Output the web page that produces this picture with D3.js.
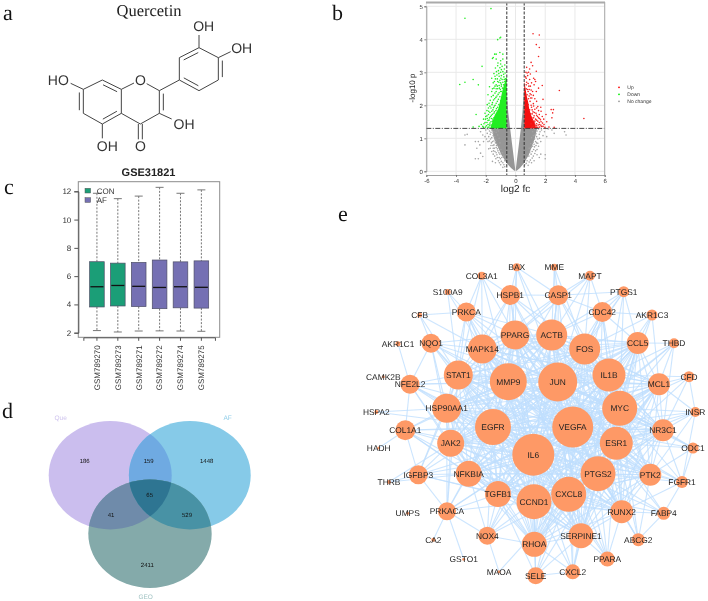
<!DOCTYPE html>
<html>
<head>
<meta charset="utf-8">
<style>
  body { margin: 0; background: #fff; }
  svg { filter: blur(0.3px); }
  text { font-family: "Liberation Sans", Arial, sans-serif; text-rendering: geometricPrecision; }
  .panel-letter { font-family: "Liberation Serif", serif; font-size: 22px; fill: #111; }
</style>
</head>
<body>
<div class="canvas"></div>
<script src="https://cdn.jsdelivr.net/npm/d3@7"></script>
<script>
// ---- panel a: molecule, atoms
const atomNames = ["c7", "c8", "c8a", "c4a", "c5", "c6", "o1", "o1r", "c2", "c3", "c4", "c1b", "c2b", "c3b", "c4b", "c5b", "c6b", "oh3b", "oh4b", "oh7", "oh5", "oh3", "oc4"];
const atomX = [250, 307, 364, 364, 307, 250, 402, 440, 478, 478, 421, 538, 538, 597, 655, 655, 597, 597, 692, 212, 307, 515, 421];
const atomY = [268, 240, 268, 340, 372, 340, 249, 251, 272, 340, 372, 240, 173, 143, 173, 240, 272, 105, 155, 250, 415, 357, 418];
const singleBonds = [["c7", "c8"], ["c8a", "c4a"], ["c5", "c6"], ["c8a", "o1"], ["o1r", "c2"], ["c3", "c4"], ["c4", "c4a"], ["c2", "c1b"], ["c1b", "c2b"], ["c3b", "c4b"], ["c5b", "c6b"], ["c3b", "oh3b"], ["c4b", "oh4b"], ["c7", "oh7"], ["c5", "oh5"], ["c3", "oh3"]];
const doubleBonds = [["c7", "c6", 12], ["c8", "c8a", 12], ["c4a", "c5", 12], ["c2", "c3", -12], ["c2b", "c3b", 12], ["c4b", "c5b", -12], ["c1b", "c6b", -12]];
const moleculeLabels = ["OH", "OH", "HO", "OH", "OH", "O", "O"];
const moleculeLabelX = [611, 725, 175, 322, 552, 421, 421];
const moleculeLabelY = [77, 143, 241, 437, 373, 240, 437];

// ---- panel b: volcano
const volcanoXTicks = [-6, -4, -2, 0, 2, 4, 6];
const volcanoYTicks = [0, 1, 2, 3, 4, 5];
const fcCut = 0.585;
const pCut = 1.3;
const legendNames = ["Up", "Down", "No change"];
const legendColors = ["#ff0000", "#00ee00", "#999999"];
// dense parts of the cloud: [-log10 p, outer log2 fc, inner log2 fc]
const greyLeft = [[0.02, -0.08, -0.02], [0.1, -0.3, -0.03], [0.25, -0.6, -0.07], [0.5, -0.95, -0.14], [0.75, -1.2, -0.21], [1, -1.45, -0.28], [1.3, -1.6, -0.36], [1.3, -0.585, -0.36], [1.8, -0.585, -0.49], [2.4, -0.585, -0.58]];
const greyRight = [[0.02, 0.08, 0.02], [0.1, 0.3, 0.03], [0.25, 0.58, 0.07], [0.5, 0.9, 0.14], [0.75, 1.1, 0.21], [1, 1.3, 0.28], [1.3, 1.45, 0.36], [1.3, 0.585, 0.36], [1.8, 0.585, 0.47], [2.5, 0.585, 0.57]];
const greenCore = [[1.3, -1.7], [1.5, -1.55], [1.7, -1.4], [1.9, -1.15], [2.1, -1.05], [2.3, -0.95], [2.5, -0.85], [2.7, -0.72], [2.85, -0.62]];
const redCore = [[1.3, 1.4], [1.5, 1.25], [1.7, 1.05], [1.9, 0.92], [2.1, 0.85], [2.3, 0.75], [2.55, 0.66], [2.7, 0.6]];
const downPoints = [[-1.65, 4.93], [-3.4, 4.64], [-1.05, 4.04], [-1.2, 3.99], [-1.0, 4.06], [-1.4, 3.55], [-1.5, 3.45], [-1.3, 3.55], [-1.05, 3.6], [-0.85, 3.55], [-1.0, 3.35], [-1.3, 3.4], [-1.55, 3.42], [-0.85, 3.4], [-2.25, 3.18], [-2.85, 2.78], [-3.75, 2.63], [-3.4, 2.7], [-2.5, 2.62],
  [-1.2, 3.2], [-1.35, 3.13], [-1.05, 3.14], [-0.9, 3.18], [-0.75, 3.1], [-1.15, 3.05], [-1.0, 3.0], [-0.85, 3.02], [-0.7, 2.98], [-1.45, 2.96], [-1.25, 2.92], [-1.1, 2.88], [-0.95, 2.9], [-0.78, 2.86], [-1.6, 2.82], [-1.35, 2.8], [-1.05, 2.76], [-0.9, 2.78], [-0.68, 2.8], [-1.2, 2.72], [-1.5, 2.68], [-1.0, 2.68], [-0.85, 2.7], [-0.72, 2.72], [-1.3, 2.62], [-1.1, 2.6], [-0.95, 2.58], [-1.75, 2.56], [-1.45, 2.52], [-1.2, 2.5], [-1.02, 2.48], [-0.88, 2.52], [-1.6, 2.42], [-1.3, 2.42], [-1.1, 2.38], [-0.95, 2.42], [-1.85, 2.32], [-1.5, 2.3], [-1.25, 2.28], [-1.05, 2.26], [-1.4, 2.2], [-1.15, 2.18], [-1.7, 2.15], [-1.0, 2.14], [-1.55, 2.08], [-1.3, 2.06], [-1.12, 2.02], [-1.9, 2.02], [-1.42, 1.98], [-1.2, 1.94], [-1.65, 1.92], [-1.05, 1.9], [-1.52, 1.86], [-1.32, 1.84], [-1.8, 1.82], [-1.15, 1.8], [-2.05, 1.76], [-1.45, 1.76], [-1.25, 1.72], [-1.62, 1.7], [-1.92, 1.68], [-1.12, 1.68], [-2.65, 1.72], [-1.38, 1.64], [-1.75, 1.62], [-1.2, 1.6], [-1.52, 1.58], [-2.15, 1.58], [-1.3, 1.54], [-1.85, 1.54], [-1.65, 1.5], [-1.18, 1.5], [-2.05, 1.48], [-1.42, 1.46], [-1.55, 1.42], [-1.28, 1.42], [-2.3, 1.42], [-1.75, 1.4], [-1.95, 1.38], [-1.15, 1.38], [-1.4, 1.36], [-2.45, 1.36], [-1.62, 1.34], [-2.15, 1.33], [-2.85, 1.34], [-1.25, 1.33], [-1.85, 1.33],
  [-1.38, 2.37], [-1.17, 2.33], [-1.62, 2.26], [-1.32, 2.24], [-1.48, 2.16], [-1.22, 2.12], [-1.78, 2.06], [-1.58, 2.02], [-1.37, 2.0], [-1.72, 1.97], [-1.48, 1.93], [-1.82, 1.92], [-1.28, 1.9], [-1.6, 1.82], [-1.92, 1.84], [-1.42, 1.8], [-1.72, 1.78], [-1.55, 1.73], [-1.82, 1.72], [-2.0, 1.66], [-1.68, 1.66], [-1.45, 1.62], [-1.9, 1.6], [-1.62, 1.6], [-1.78, 1.55], [-2.02, 1.58], [-1.55, 1.52], [-1.92, 1.48], [-1.72, 1.46], [-2.12, 1.44], [-1.85, 1.42], [-1.65, 1.4], [-2.2, 1.36], [-2.02, 1.34], [-1.78, 1.34], [-1.52, 1.35], [-1.0, 3.25], [-0.72, 3.22], [-1.18, 3.28], [-0.95, 3.08], [-1.28, 3.02], [-0.8, 2.94], [-1.12, 2.96], [-1.38, 2.88], [-0.98, 2.82], [-1.22, 2.8], [-0.76, 2.78], [-1.42, 2.72], [-1.12, 2.7], [-0.95, 2.64], [-1.22, 2.58], [-0.8, 2.62], [-1.38, 2.58], [-1.08, 2.52], [-1.55, 2.5], [-1.3, 2.5], [-1.0, 2.42]];
const upPoints = [[1.18, 4.17], [1.6, 4.13], [1.4, 3.84], [1.6, 3.75], [1.55, 3.48], [1.05, 3.3], [1.15, 3.2], [0.75, 3.15], [0.95, 3.1], [1.4, 3.03], [0.7, 3.0], [1.0, 2.95], [0.82, 2.9], [0.68, 2.86], [1.22, 2.82], [1.3, 2.78], [0.95, 2.78], [1.35, 2.72], [0.75, 2.7], [1.08, 2.68], [1.8, 2.6], [1.25, 2.62], [0.9, 2.58], [2.95, 2.45], [1.55, 2.52], [0.72, 2.5], [1.05, 2.46], [1.4, 2.42], [0.85, 2.42], [0.98, 2.35], [1.2, 2.3], [0.78, 2.32], [1.1, 2.22], [0.88, 2.2], [1.85, 2.18], [1.42, 2.12], [0.98, 2.12], [1.2, 2.05], [0.85, 2.02], [1.5, 1.96], [1.7, 1.94], [1.08, 1.94], [1.3, 1.88], [2.4, 1.87], [2.55, 1.87], [0.95, 1.86], [1.55, 1.84], [1.72, 1.82], [1.18, 1.8], [2.5, 1.77], [1.38, 1.76], [1.02, 1.74], [1.6, 1.72], [2.05, 1.72], [1.25, 1.68], [1.48, 1.66], [1.8, 1.66], [1.1, 1.62], [2.45, 1.62], [1.62, 1.6], [4.6, 1.6], [1.35, 1.58], [1.9, 1.58], [1.15, 1.54], [1.5, 1.52], [1.72, 1.5], [2.1, 1.5], [1.28, 1.46], [1.05, 1.44], [1.6, 1.42], [1.92, 1.42], [1.4, 1.38], [1.18, 1.36], [1.75, 1.36], [2.25, 1.34], [1.5, 1.33], [1.1, 1.33], [1.98, 1.33], [2.6, 1.33],
  [1.22, 1.98], [1.05, 2.0], [1.12, 1.86], [1.42, 1.92], [1.28, 1.78], [1.12, 1.74], [1.42, 1.7], [1.22, 1.62], [1.55, 1.62], [1.42, 1.55], [1.68, 1.56], [1.3, 1.52], [1.6, 1.48], [1.82, 1.46], [1.42, 1.44], [1.32, 1.4], [1.52, 1.4], [1.7, 1.4], [1.85, 1.36], [1.62, 1.34], [1.4, 1.33], [0.92, 2.28], [1.02, 2.22], [0.8, 2.48], [0.92, 2.48], [0.72, 2.62], [0.85, 2.66], [1.0, 2.58], [0.72, 2.82], [0.78, 2.98], [0.88, 3.0], [1.15, 2.42], [1.3, 2.2], [1.05, 2.32]];
const flatPoints = [[-3.4, 1.1], [-3.25, 1.12], [-3.4, 0.8], [-2.7, 0.9], [-2.5, 0.9], [-2.4, 0.8], [-2.6, 0.7], [-2.35, 0.55], [-2.7, 0.38], [-2.5, 0.38], [-2.2, 0.45], [-2.2, 1.1], [-2.05, 1.05], [-1.95, 0.98], [-2.15, 0.9], [-1.85, 0.9], [-2.35, 1.2], [-2.0, 1.25], [-1.75, 1.22], [-1.9, 1.15], [-1.6, 1.25], [-1.45, 1.28], [-1.25, 1.26], [-1.7, 1.12], [-1.5, 1.15], [-1.3, 1.18], [-1.15, 1.22], [-1.6, 1.02], [-1.4, 1.05], [-1.2, 1.1], [-1.75, 0.92], [-1.55, 0.9], [-1.3, 0.95], [-1.1, 1.0], [-1.65, 0.78], [-1.45, 0.8], [-1.25, 0.84], [-1.05, 0.86], [-1.8, 0.68], [-1.5, 0.7], [-1.3, 0.72], [-1.1, 0.74], [-1.6, 0.6], [-1.38, 0.6], [-1.18, 0.62], [-0.98, 0.66], [-1.25, 0.5], [-1.05, 0.52], [-0.88, 0.56], [-1.4, 0.46], [-1.1, 0.42], [-0.92, 0.42], [-0.8, 0.46], [-1.15, 0.32], [-0.95, 0.3], [-0.72, 0.32], [-1.0, 0.2], [-0.78, 0.2], [-0.6, 0.2], [-0.85, 0.12], [-1.55, 0.3], [-1.35, 0.26],
  [-1.85, 1.28], [-1.65, 1.18], [-1.45, 1.2], [-1.8, 1.05], [-1.5, 1.08], [-1.38, 0.98], [-1.68, 0.98], [-1.45, 0.92], [-1.62, 0.86], [-1.35, 0.86], [-1.52, 0.78], [-1.28, 0.78], [-1.42, 0.7], [-1.7, 0.7], [-1.22, 0.68], [-1.48, 0.62], [-1.3, 0.56], [-1.12, 0.56], [-1.5, 0.52], [-1.22, 0.42], [-1.02, 0.38], [-1.32, 0.38], [-0.85, 0.26], [-1.08, 0.26], [-0.72, 0.14],
  [3.3, 1.2], [3.4, 1.1], [2.6, 1.15], [2.45, 1.25], [2.2, 1.28], [1.95, 1.2], [1.75, 1.25], [1.55, 1.28], [1.3, 1.27], [1.15, 1.2], [1.85, 1.08], [1.6, 1.12], [1.38, 1.14], [1.2, 1.08], [2.1, 1.05], [1.5, 0.98], [1.28, 0.98], [1.08, 1.02], [1.7, 0.9], [1.42, 0.86], [1.18, 0.88], [1.02, 0.84], [1.55, 0.76], [1.28, 0.74], [1.05, 0.72], [0.92, 0.7], [1.35, 0.62], [1.12, 0.6], [0.95, 0.58], [1.7, 0.52], [2.0, 0.5], [1.45, 0.5], [1.2, 0.46], [0.9, 0.46], [1.0, 0.34], [0.78, 0.32], [1.25, 0.32], [0.62, 0.2], [0.85, 0.18], [1.6, 0.42], [2.0, 0.38],
  [1.45, 1.22], [1.65, 1.2], [1.42, 1.05], [1.3, 1.1], [1.62, 1.0], [1.35, 0.9], [1.5, 0.85], [1.25, 0.82], [1.38, 0.78], [1.15, 0.76], [1.22, 0.66], [1.45, 0.66], [1.05, 0.52], [1.3, 0.54], [1.12, 0.4], [0.92, 0.28], [0.72, 0.24], [1.08, 0.26]];

// ---- panel c: boxplot
const sampleNames = ["GSM789270", "GSM789273", "GSM789271", "GSM789272", "GSM789274", "GSM789275"];
const sampleGroups = ["CON", "CON", "AF", "AF", "AF", "AF"];
const boxQ1 = [3.82, 3.89, 3.85, 3.7, 3.76, 3.74];
const boxMedian = [5.25, 5.34, 5.28, 5.2, 5.25, 5.21];
const boxQ3 = [7.02, 6.92, 6.97, 7.14, 7.01, 7.08];
const whiskerLow = [2.15, 2.05, 2.12, 2.13, 2.12, 2.1];
const whiskerHigh = [11.86, 11.48, 11.66, 12.28, 11.86, 12.1];
const boxTicks = [2, 4, 6, 8, 10, 12];

// ---- panel d: venn
const vennCounts = ["186", "159", "1448", "65", "41", "529", "2411"];
const vennCountX = [84.7, 148.7, 206.7, 149.7, 111, 187, 147.3];
const vennCountY = [460.7, 460.7, 460.7, 494.7, 515, 515, 565];
const vennSets = ["Que", "AF", "GEO"];

// ---- panel e: network
const geneNames = ["IL6", "VEGFA", "JUN", "MMP9", "EGFR", "MYC", "PTGS2", "CXCL8", "CCND1", "IL1B", "ESR1", "FOS", "ACTB", "PPARG", "MAPK14", "STAT1", "HSP90AA1", "JAK2", "NFKBIA", "TGFB1", "RHOA", "SERPINE1", "RUNX2", "PTK2", "NR3C1", "MCL1", "CCL5", "CDC42", "CASP1", "HSPB1", "PRKCA", "NQO1", "NFE2L2", "COL1A1", "IGFBP3", "PRKACA", "NOX4", "SELE", "CXCL2", "PPARA", "ABCG2", "FABP4", "FGFR1", "ODC1", "INSR", "CFD", "THBD", "AKR1C3", "PTGS1", "MAPT", "MME", "BAX", "COL3A1", "S100A9", "CFB", "AKR1C1", "CAMK2B", "HSPA2", "HADH", "THRB", "UMPS", "CA2", "GSTO1", "MAOA"];
const geneDegree = [42, 41, 39, 37, 36, 35, 35, 35, 35, 33, 33, 31, 31, 29, 29, 29, 29, 27, 26, 26, 25, 25, 23, 22, 22, 22, 22, 20, 20, 20, 19, 19, 19, 20, 19, 18, 18, 17, 15, 15, 13, 13, 12, 11, 10, 11, 10, 11, 11, 10, 7, 8, 8, 6, 5, 5, 3, 4, 3, 4, 3, 4, 3, 3];
const geneX = [178.3, 217.7, 202.7, 153.3, 138, 264.7, 243, 213.7, 179, 254, 261.3, 229.7, 196.7, 160, 127.3, 103.3, 91.7, 95.7, 113.7, 143, 179.3, 226, 266.7, 295.3, 308, 304, 282.7, 247.3, 203.3, 155.3, 111.3, 76, 55, 50.3, 63.3, 92, 132.3, 180.7, 217.7, 252.3, 283.3, 308.7, 327, 338, 340.3, 334, 319, 297, 268.7, 235, 199.3, 161.7, 126.7, 92.7, 64.7, 43, 28.3, 21.3, 23.7, 34, 52.7, 78.3, 108.7, 144];
const geneY = [194.7, 167, 122, 121.7, 167, 148.3, 213.7, 234.3, 241.7, 115, 183.3, 89, 75, 75, 89, 115, 148.3, 183.3, 213.7, 234, 284.3, 275.7, 251.7, 214.7, 170.3, 124.3, 83, 52, 35.3, 35, 52, 83.3, 124.3, 170.3, 214.7, 251.3, 275.7, 315.7, 311.7, 299, 279.7, 253.3, 222, 188, 152, 116.7, 83.3, 55, 31.7, 15.7, 7.3, 7.3, 15.7, 32, 55, 83.7, 116.7, 152, 188, 222, 253.3, 279.7, 299.3, 311.7];
const hubCount = 27; // the inner genes are all linked to each other
const outerLinks = [
  ["CDC42", ["ACTB", "FOS", "IL1B", "CCL5", "JUN", "MYC", "IL6", "VEGFA", "CASP1", "PTGS2", "ESR1"]],
  ["CASP1", ["ACTB", "FOS", "JUN", "MMP9", "IL6", "PPARG", "IL1B", "VEGFA", "HSPB1", "MAPK14"]],
  ["HSPB1", ["ACTB", "PPARG", "MMP9", "JUN", "MAPK14", "IL6", "STAT1", "EGFR", "VEGFA", "FOS"]],
  ["PRKCA", ["MAPK14", "STAT1", "PPARG", "MMP9", "JUN", "EGFR", "HSP90AA1", "IL6", "ACTB", "VEGFA"]],
  ["NQO1", ["STAT1", "MAPK14", "HSP90AA1", "MMP9", "JAK2", "IL6", "EGFR", "NFE2L2", "PPARG", "JUN", "VEGFA"]],
  ["NFE2L2", ["STAT1", "HSP90AA1", "EGFR", "MMP9", "IL6", "JUN", "JAK2", "COL1A1", "NFKBIA", "VEGFA"]],
  ["COL1A1", ["HSP90AA1", "EGFR", "JAK2", "IL6", "TGFB1", "MMP9", "NFKBIA", "VEGFA", "IGFBP3", "CCND1"]],
  ["IGFBP3", ["JAK2", "EGFR", "NFKBIA", "TGFB1", "IL6", "HSP90AA1", "PRKACA", "VEGFA", "CCND1", "STAT1"]],
  ["PRKACA", ["NFKBIA", "JAK2", "TGFB1", "EGFR", "IL6", "CCND1", "NOX4", "VEGFA", "STAT1", "HSP90AA1"]],
  ["NOX4", ["TGFB1", "CCND1", "IL6", "NFKBIA", "VEGFA", "RHOA", "EGFR", "CXCL8", "JUN"]],
  ["SELE", ["RHOA", "CCND1", "IL6", "CXCL8", "VEGFA", "SERPINE1", "CXCL2", "TGFB1", "PTGS2"]],
  ["CXCL2", ["SERPINE1", "CXCL8", "IL6", "PTGS2", "CCND1", "IL1B", "VEGFA", "RHOA"]],
  ["PPARA", ["RUNX2", "CXCL8", "SERPINE1", "PPARG", "PTGS2", "IL6", "ESR1", "VEGFA"]],
  ["ABCG2", ["RUNX2", "PTK2", "ESR1", "FABP4", "PTGS2", "VEGFA", "MYC"]],
  ["FABP4", ["RUNX2", "PTGS2", "PPARG", "IL6", "FGFR1", "ESR1", "CXCL8"]],
  ["FGFR1", ["PTK2", "RUNX2", "ESR1", "PTGS2", "EGFR", "MYC", "NR3C1", "VEGFA"]],
  ["ODC1", ["PTK2", "NR3C1", "MYC", "ESR1", "FGFR1", "VEGFA", "JUN"]],
  ["INSR", ["NR3C1", "MYC", "MCL1", "ESR1", "FGFR1", "PTK2", "VEGFA", "IL6"]],
  ["CFD", ["MCL1", "NR3C1", "MYC", "IL1B", "ESR1", "INSR"]],
  ["THBD", ["CCL5", "IL1B", "MCL1", "NR3C1", "MYC", "VEGFA", "IL6"]],
  ["AKR1C3", ["CDC42", "CCL5", "MCL1", "IL1B", "FOS", "MYC"]],
  ["PTGS1", ["CDC42", "FOS", "IL1B", "CCL5", "CASP1", "ACTB", "MYC", "JUN"]],
  ["MAPT", ["CASP1", "CDC42", "ACTB", "JUN", "FOS", "PPARG"]],
  ["MME", ["CASP1", "ACTB", "JUN", "FOS"]],
  ["BAX", ["HSPB1", "MMP9", "CASP1", "PPARG", "ACTB", "JUN"]],
  ["COL3A1", ["PRKCA", "HSPB1", "MMP9", "MAPK14", "PPARG", "STAT1"]],
  ["S100A9", ["PRKCA", "MAPK14", "STAT1"]],
  ["CFB", ["PRKCA", "STAT1", "NQO1", "MAPK14"]],
  ["AKR1C1", ["NFE2L2"]],
  ["HSPA2", ["HSP90AA1", "EGFR"]],
  ["HADH", ["COL1A1"]],
  ["THRB", ["IGFBP3", "JAK2", "NFKBIA"]],
  ["CA2", ["PRKACA"]],
  ["GSTO1", ["PRKACA"]],
  ["MAOA", ["NOX4", "CXCL8"]]
];

const svg = d3.select(".canvas").append("svg").attr("width", 708).attr("height", 601).style("display", "block");
svg.append("rect").attr("width", 708).attr("height", 601).attr("fill", "#fff");

// panel letters
const letters = [["a", 3, 20], ["b", 332, 20], ["c", 4, 194], ["d", 2, 418], ["e", 338, 221]];
svg.selectAll(".panel-letter").data(letters).enter().append("text")
  .attr("class", "panel-letter")
  .attr("x", (d) => d[1])
  .attr("y", (d) => d[2])
  .text((d) => d[0]);

// ---------- a
const molX = d3.scaleLinear().domain([0, 900]).range([0, 300]);
const molY = d3.scaleLinear().domain([0, 510]).range([0, 170]);
const atomIndex = (name) => atomNames.indexOf(name);
const mol = svg.append("g");
mol.append("text").attr("x", 149).attr("y", 16).attr("text-anchor", "middle")
  .style("font-family", "'Liberation Serif', serif").style("font-size", "16.5px").attr("fill", "#222").text("Quercetin");
mol.selectAll(".single").data(singleBonds).enter().append("line")
  .attr("x1", (d) => molX(atomX[atomIndex(d[0])]))
  .attr("y1", (d) => molY(atomY[atomIndex(d[0])]))
  .attr("x2", (d) => molX(atomX[atomIndex(d[1])]))
  .attr("y2", (d) => molY(atomY[atomIndex(d[1])]))
  .attr("stroke", "#444").attr("stroke-width", 1);
// double bonds: outer line plus a shorter line moved towards the ring centre
doubleBonds.forEach((b) => {
  const x1 = atomX[atomIndex(b[0])], y1 = atomY[atomIndex(b[0])];
  const x2 = atomX[atomIndex(b[1])], y2 = atomY[atomIndex(b[1])];
  const len = Math.hypot(x2 - x1, y2 - y1);
  const nx = -(y2 - y1) / len, ny = (x2 - x1) / len;
  mol.append("line").attr("x1", molX(x1)).attr("y1", molY(y1)).attr("x2", molX(x2)).attr("y2", molY(y2))
    .attr("stroke", "#444").attr("stroke-width", 1);
  mol.append("line")
    .attr("x1", molX(x1 + nx * b[2] + (x2 - x1) * 0.13)).attr("y1", molY(y1 + ny * b[2] + (y2 - y1) * 0.13))
    .attr("x2", molX(x2 + nx * b[2] - (x2 - x1) * 0.13)).attr("y2", molY(y2 + ny * b[2] - (y2 - y1) * 0.13))
    .attr("stroke", "#444").attr("stroke-width", 1);
});
// carbonyl C=O
[-6, 6].forEach((off) => {
  mol.append("line")
    .attr("x1", molX(atomX[atomIndex("c4")] + off)).attr("y1", molY(atomY[atomIndex("c4")]))
    .attr("x2", molX(atomX[atomIndex("oc4")] + off)).attr("y2", molY(atomY[atomIndex("oc4")]))
    .attr("stroke", "#444").attr("stroke-width", 1);
});
mol.selectAll(".atom-label").data(moleculeLabels).enter().append("text")
  .attr("x", (d, i) => molX(moleculeLabelX[i]))
  .attr("y", (d, i) => molY(moleculeLabelY[i]))
  .attr("dy", "0.36em").attr("text-anchor", "middle")
  .style("font-size", "14px").attr("fill", "#333")
  .text((d) => d);

// ---------- b
const volX = d3.scaleLinear().domain([-6, 6]).range([426.3, 604.7]);
const volY = d3.scaleLinear().domain([0, 5]).range([171.3, 6.3]);
const vol = svg.append("g");
vol.selectAll(".vgx").data(volcanoXTicks).enter().append("line")
  .attr("x1", (d) => volX(d)).attr("x2", (d) => volX(d)).attr("y1", 2.5).attr("y2", 175)
  .attr("stroke", "#e9e9e9");
vol.selectAll(".vgy").data(volcanoYTicks).enter().append("line")
  .attr("x1", 426.3).attr("x2", 604.7).attr("y1", (d) => volY(d)).attr("y2", (d) => volY(d))
  .attr("stroke", "#e9e9e9");

const flatArea = d3.area().y((d) => volY(d[0])).x0((d) => volX(d[1])).x1((d) => volX(d[2]));
vol.append("path").attr("d", flatArea(greyLeft)).attr("fill", "#969696");
vol.append("path").attr("d", flatArea(greyRight)).attr("fill", "#969696");
const coreArea = (sign) => d3.area().y((d) => volY(d[0])).x0((d) => volX(d[1])).x1(() => volX(sign * fcCut));
vol.append("path").attr("d", coreArea(-1)(greenCore)).attr("fill", "#22ee22");
vol.append("path").attr("d", coreArea(1)(redCore)).attr("fill", "#f50f0f");

const addPoints = (rows, color) => {
  vol.append("g").selectAll("circle").data(rows).enter().append("circle")
    .attr("cx", (d) => volX(d[0]))
    .attr("cy", (d) => volY(d[1]))
    .attr("r", 0.8)
    .attr("fill", color);
};
addPoints(flatPoints, "#a3a3a3");
addPoints(downPoints, "#22ee22");
addPoints(upPoints, "#f22020");

[-fcCut, fcCut].forEach((v) => {
  vol.append("line").attr("x1", volX(v)).attr("x2", volX(v)).attr("y1", 2.5).attr("y2", 175)
    .attr("stroke", "#333").attr("stroke-width", 1).attr("stroke-dasharray", "3,1.5");
});
vol.append("line").attr("x1", 426.3).attr("x2", 604.7).attr("y1", volY(pCut)).attr("y2", volY(pCut))
  .attr("stroke", "#333").attr("stroke-width", 0.9).attr("stroke-dasharray", "5,1.5,1,1.5");

vol.append("line").attr("x1", 426).attr("x2", 605).attr("y1", 2.5).attr("y2", 2.5).attr("stroke", "#aaa").attr("stroke-width", 2);
vol.append("line").attr("x1", 604.7).attr("x2", 604.7).attr("y1", 2).attr("y2", 175).attr("stroke", "#aaa").attr("stroke-width", 1);

const volXAxis = vol.append("g").attr("transform", "translate(0,175)")
  .call(d3.axisBottom(volX).tickValues(volcanoXTicks).tickFormat((d) => String(d)).tickSize(2).tickPadding(1.5));
const volYAxis = vol.append("g").attr("transform", "translate(426.3,0)")
  .call(d3.axisLeft(volY).tickValues(volcanoYTicks).tickFormat((d) => String(d)).tickSize(2).tickPadding(1.5));
[volXAxis, volYAxis].forEach((a) => {
  a.selectAll("text").style("font-size", "6px").attr("fill", "#333");
  a.selectAll("line").attr("stroke", "#555").attr("stroke-width", 0.7);
  a.select(".domain").attr("stroke", "#888").attr("stroke-width", 0.8);
});
vol.append("text").attr("x", 515.5).attr("y", 192).attr("text-anchor", "middle")
  .style("font-size", "10px").attr("fill", "#222").text("log2 fc");
vol.append("text").attr("transform", "translate(414.5,88) rotate(-90)").attr("text-anchor", "middle")
  .style("font-size", "8px").attr("fill", "#222").text("-log10 p");
const volLegendY = d3.scalePoint().domain(legendNames).range([87.3, 101.3]);
vol.selectAll(".leg-dot").data(legendNames).enter().append("circle")
  .attr("cx", 619).attr("cy", (d) => volLegendY(d)).attr("r", 0.9)
  .attr("fill", (d, i) => legendColors[i]);
vol.selectAll(".leg-text").data(legendNames).enter().append("text")
  .attr("x", 627.3).attr("y", (d) => volLegendY(d)).attr("dy", "0.35em")
  .style("font-size", "5px").attr("fill", "#333").text((d) => d);

// ---------- c
const boxX = d3.scaleBand().domain(sampleNames).range([83.35, 214.95]).padding(0.3);
const boxY = d3.scaleLinear().domain([2, 12]).range([332.7, 191.3]);
const boxColor = d3.scaleOrdinal().domain(["CON", "AF"]).range(["#1b9e77", "#7570b3"]);
const box = svg.append("g");
box.append("text").attr("x", 148.5).attr("y", 176).attr("text-anchor", "middle")
  .style("font-size", "11px").style("font-weight", "bold").attr("fill", "#222").text("GSE31821");
box.append("rect").attr("x", 78.3).attr("y", 181.7).attr("width", 141.4).attr("height", 155.6)
  .attr("fill", "none").attr("stroke", "#8c8c8c").attr("stroke-width", 1);

const boxes = box.selectAll(".sample").data(sampleNames).enter().append("g")
  .attr("transform", (d) => `translate(${boxX(d) + boxX.bandwidth() / 2},0)`);
boxes.append("line").attr("y1", (d, i) => boxY(whiskerHigh[i])).attr("y2", (d, i) => boxY(boxQ3[i]))
  .attr("stroke", "#777").attr("stroke-dasharray", "2,1.5");
boxes.append("line").attr("y1", (d, i) => boxY(boxQ1[i])).attr("y2", (d, i) => boxY(whiskerLow[i]))
  .attr("stroke", "#777").attr("stroke-dasharray", "2,1.5");
boxes.append("line").attr("x1", -4).attr("x2", 4).attr("y1", (d, i) => boxY(whiskerHigh[i])).attr("y2", (d, i) => boxY(whiskerHigh[i]))
  .attr("stroke", "#777");
boxes.append("line").attr("x1", -4).attr("x2", 4).attr("y1", (d, i) => boxY(whiskerLow[i])).attr("y2", (d, i) => boxY(whiskerLow[i]))
  .attr("stroke", "#777");
boxes.append("rect")
  .attr("x", -boxX.bandwidth() / 2)
  .attr("width", boxX.bandwidth())
  .attr("y", (d, i) => boxY(boxQ3[i]))
  .attr("height", (d, i) => boxY(boxQ1[i]) - boxY(boxQ3[i]))
  .attr("fill", (d, i) => boxColor(sampleGroups[i]))
  .attr("stroke", "#4d4d66").attr("stroke-width", 0.7);
boxes.append("line")
  .attr("x1", -boxX.bandwidth() / 2 + 0.8).attr("x2", boxX.bandwidth() / 2 - 0.8)
  .attr("y1", (d, i) => boxY(boxMedian[i])).attr("y2", (d, i) => boxY(boxMedian[i]))
  .attr("stroke", "#111").attr("stroke-width", 1.3);

const boxYAxis = box.append("g").attr("transform", "translate(78.3,0)")
  .call(d3.axisLeft(boxY).tickValues(boxTicks).tickSize(4).tickPadding(3));
const boxXAxis = box.append("g").attr("transform", "translate(0,337.3)")
  .call(d3.axisBottom(boxX).tickSize(3.5).tickPadding(3));
[boxYAxis, boxXAxis].forEach((a) => {
  a.select(".domain").attr("stroke", "#555");
  a.selectAll("line").attr("stroke", "#555");
  a.selectAll("text").style("font-size", "8px").attr("fill", "#333");
});
boxXAxis.selectAll("text")
  .attr("transform", "rotate(-90)")
  .attr("text-anchor", "end")
  .attr("x", -8).attr("y", 0).attr("dy", "0.35em");

const boxLegend = box.selectAll(".box-leg").data(["CON", "AF"]).enter().append("g")
  .attr("transform", (d, i) => `translate(85,${188.3 + i * 9.4})`);
boxLegend.append("rect").attr("width", 5.6).attr("height", 4.7).attr("fill", (d) => boxColor(d)).attr("stroke", "#555").attr("stroke-width", 0.5);
boxLegend.append("text").attr("x", 11.7).attr("y", 2.4).attr("dy", "0.35em")
  .style("font-size", "8px").attr("fill", "#333").text((d) => d);

// ---------- d
const venn = svg.append("g");
const defs = svg.append("defs");
const vennShape = [[110.2, 475.2, 61.5, 54.2], [189.8, 475.2, 60.9, 54.2], [150, 533.7, 61.7, 54.3]];
vennShape.forEach((c, i) => {
  defs.append("clipPath").attr("id", "clip" + i).append("ellipse")
    .attr("cx", c[0]).attr("cy", c[1]).attr("rx", c[2]).attr("ry", c[3]);
});
const ellipse = (parent, c, fill) => parent.append("ellipse")
  .attr("cx", c[0]).attr("cy", c[1]).attr("rx", c[2]).attr("ry", c[3]).attr("fill", fill);
ellipse(venn, vennShape[0], "#cbbeee");
ellipse(venn, vennShape[1], "#86cae8");
ellipse(venn.append("g").attr("clip-path", "url(#clip0)"), vennShape[1], "#6faae2");
ellipse(venn, vennShape[2], "#84aaaa");
ellipse(venn.append("g").attr("clip-path", "url(#clip0)"), vennShape[2], "#6f8baa");
ellipse(venn.append("g").attr("clip-path", "url(#clip1)"), vennShape[2], "#4892a5");
ellipse(venn.append("g").attr("clip-path", "url(#clip0)").append("g").attr("clip-path", "url(#clip1)"), vennShape[2], "#2e7592");

venn.selectAll(".count").data(vennCounts).enter().append("text")
  .attr("x", (d, i) => vennCountX[i])
  .attr("y", (d, i) => vennCountY[i])
  .attr("dy", "0.35em").attr("text-anchor", "middle")
  .style("font-size", "6px").attr("fill", "#111").text((d) => d);
const vennNameX = [60.7, 227.7, 145.7];
const vennNameY = [417.3, 417.3, 596.3];
const vennNameFill = ["#cfc4ee", "#93cfe9", "#a3c4c4"];
venn.selectAll(".set").data(vennSets).enter().append("text")
  .attr("x", (d, i) => vennNameX[i]).attr("y", (d, i) => vennNameY[i])
  .attr("dy", "0.35em").attr("text-anchor", "middle")
  .style("font-size", "6.5px").attr("fill", (d, i) => vennNameFill[i]).text((d) => d);

// ---------- e
const netX = d3.scaleLinear().domain([0, 350]).range([355, 705]);
const netY = d3.scaleLinear().domain([0, 330]).range([260, 590]);
const netR = d3.scaleLinear().domain([0, 42]).range([0, 21]);
const edges = [];
for (let i = 0; i < hubCount; i++) {
  for (let j = i + 1; j < hubCount; j++) edges.push([i, j]);
}
outerLinks.forEach((row) => {
  row[1].forEach((target) => edges.push([geneNames.indexOf(row[0]), geneNames.indexOf(target)]));
});
const net = svg.append("g");
net.append("g").selectAll("line").data(edges).enter().append("line")
  .attr("x1", (d) => netX(geneX[d[0]]))
  .attr("y1", (d) => netY(geneY[d[0]]))
  .attr("x2", (d) => netX(geneX[d[1]]))
  .attr("y2", (d) => netY(geneY[d[1]]))
  .attr("stroke", "#bfdefe").attr("stroke-width", 1.1).attr("stroke-opacity", 0.8);
net.append("g").selectAll("circle").data(geneNames).enter().append("circle")
  .attr("cx", (d, i) => netX(geneX[i]))
  .attr("cy", (d, i) => netY(geneY[i]))
  .attr("r", (d, i) => netR(geneDegree[i]))
  .attr("fill", "#fe9966");
net.append("g").selectAll("text").data(geneNames).enter().append("text")
  .attr("x", (d, i) => netX(geneX[i]))
  .attr("y", (d, i) => netY(geneY[i]))
  .attr("dy", "0.35em").attr("text-anchor", "middle")
  .style("font-size", "8.4px").attr("fill", "#222").text((d) => d);
</script>
</body>
</html>
